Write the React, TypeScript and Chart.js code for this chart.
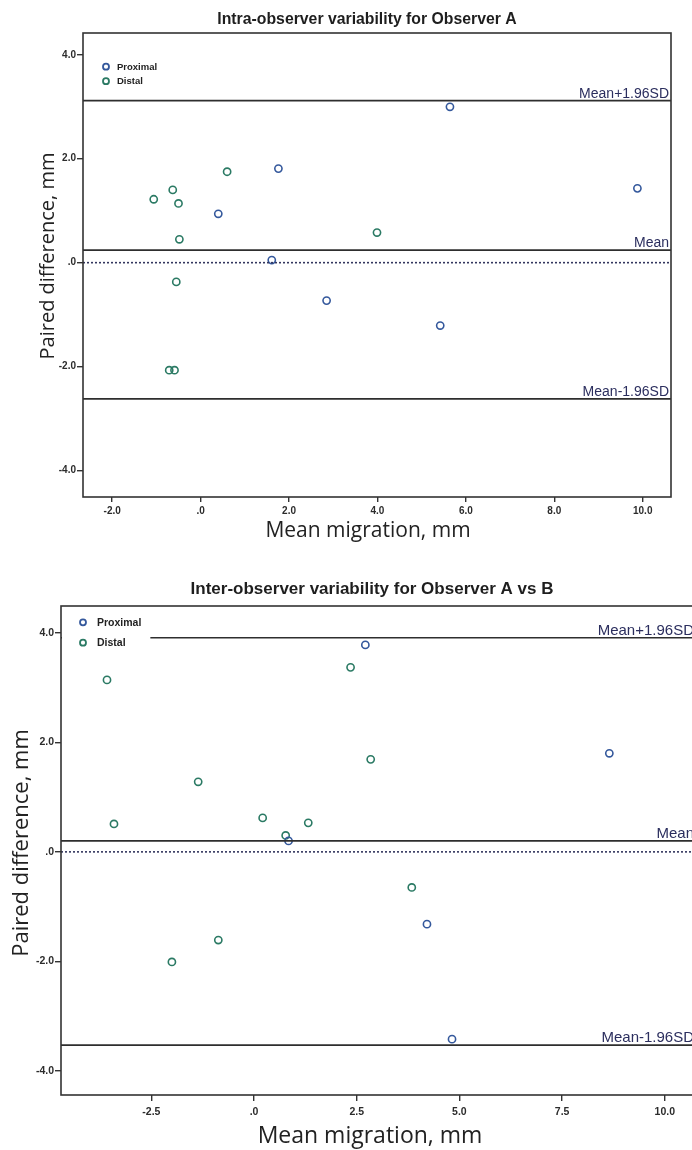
import React, { useEffect, useRef } from "react";
import { Chart, registerables } from "chart.js";

Chart.register(...registerables);

// ---- Shared labels ----
const SERIES_NAMES = ["Proximal", "Distal"];
const LIMIT_LABELS = ["Mean+1.96SD", "Mean", "Mean-1.96SD"];
const X_TITLE = "Mean migration, mm";
const Y_TITLE = "Paired difference, mm";

// ---- Intra-observer variability (Observer A) ----
const INTRA_TITLE = "Intra-observer variability for Observer A";
const INTRA_PROX_X = [5.64, 1.76, 9.88, 0.4, 1.61, 2.85, 5.42];
const INTRA_PROX_Y = [3.0, 1.81, 1.43, 0.94, 0.05, -0.73, -1.21];
const INTRA_DIST_X = [-1.06, -0.63, -0.5, 0.6, -0.48, 3.99, -0.55, -0.71, -0.59];
const INTRA_DIST_Y = [1.22, 1.4, 1.14, 1.75, 0.45, 0.58, -0.37, -2.07, -2.07];
const INTRA_LIMITS = [3.12, 0.24, -2.62];
const INTRA_X_TICKS = [-2, 0, 2, 4, 6, 8, 10];
const INTRA_X_TICK_LABELS = ["-2.0", ".0", "2.0", "4.0", "6.0", "8.0", "10.0"];
const INTRA_Y_TICKS = [-4, -2, 0, 2, 4];
const INTRA_Y_TICK_LABELS = ["-4.0", "-2.0", ".0", "2.0", "4.0"];

// ---- Inter-observer variability (Observer A vs B) ----
const INTER_TITLE = "Inter-observer variability for Observer A vs B";
const INTER_PROX_X = [2.71, 8.65, 0.84, 4.21, 4.82];
const INTER_PROX_Y = [3.78, 1.8, 0.2, -1.32, -3.42];
const INTER_DIST_X = [-3.58, 2.35, 2.84, -1.36, -3.41, 0.21, 1.32, 0.77, 3.84, -0.87, -2.0];
const INTER_DIST_Y = [3.14, 3.37, 1.69, 1.28, 0.51, 0.62, 0.53, 0.3, -0.65, -1.61, -2.01];
const INTER_LIMITS = [3.91, 0.2, -3.53];
const INTER_X_TICKS = [-2.5, 0, 2.5, 5, 7.5, 10];
const INTER_X_TICK_LABELS = ["-2.5", ".0", "2.5", "5.0", "7.5", "10.0"];
const INTER_Y_TICKS = [-4, -2, 0, 2, 4];
const INTER_Y_TICK_LABELS = ["-4.0", "-2.0", ".0", "2.0", "4.0"];

const PROX_COLOR = "#34589c";
const DIST_COLOR = "#2b7a64";
const INK = "#2c2c2c";
const LABEL_INK = "#2b2e5e";
const SANS = '"Liberation Sans", Arial, sans-serif';
const TITLE_SANS = '"Open Sans", "Noto Sans", sans-serif';

type AxisTitle = { cx: number; cy: number; size: number };

type Spec = {
  title: string;
  titleX: number;
  titleY: number;
  titleSize: number;
  proxX: number[];
  proxY: number[];
  distX: number[];
  distY: number[];
  limits: number[];
  xMin: number;
  xMax: number;
  yMin: number;
  yMax: number;
  xTicks: number[];
  xTickLabels: string[];
  yTicks: number[];
  yTickLabels: string[];
  padding: { left: number; right: number; top: number; bottom: number };
  yAxisWidth: number;
  xAxisHeight: number;
  tickSize: number;
  xTickPad: number;
  xTickLen: number;
  xTitle: AxisTitle;
  yTitle: AxisTitle;
  limitSize: number;
  key: { markerDx: number; textDx: number; firstDy: number; gap: number; size: number; padRight: number; padBottom: number };
};

const INTRA: Spec = {
  title: INTRA_TITLE,
  titleX: 367,
  titleY: 20,
  titleSize: 15.8,
  proxX: INTRA_PROX_X,
  proxY: INTRA_PROX_Y,
  distX: INTRA_DIST_X,
  distY: INTRA_DIST_Y,
  limits: INTRA_LIMITS,
  xMin: -2.66,
  xMax: 10.64,
  yMin: -4.51,
  yMax: 4.42,
  xTicks: INTRA_X_TICKS,
  xTickLabels: INTRA_X_TICK_LABELS,
  yTicks: INTRA_Y_TICKS,
  yTickLabels: INTRA_Y_TICK_LABELS,
  padding: { left: 30, right: 21, top: 33, bottom: 0 },
  yAxisWidth: 53,
  xAxisHeight: 53,
  tickSize: 10,
  xTickPad: 3,
  xTickLen: 5,
  xTitle: { cx: 368, cy: 531, size: 21 },
  yTitle: { cx: 48, cy: 256, size: 20 },
  limitSize: 14,
  key: { markerDx: 23, textDx: 34, firstDy: 33.7, gap: 14.5, size: 9.5, padRight: 8, padBottom: 8 },
};

const INTER: Spec = {
  title: INTER_TITLE,
  titleX: 372,
  titleY: 29,
  titleSize: 17,
  proxX: INTER_PROX_X,
  proxY: INTER_PROX_Y,
  distX: INTER_DIST_X,
  distY: INTER_DIST_Y,
  limits: INTER_LIMITS,
  xMin: -4.7,
  xMax: 10.76,
  yMin: -4.44,
  yMax: 4.49,
  xTicks: INTER_X_TICKS,
  xTickLabels: INTER_X_TICK_LABELS,
  yTicks: INTER_Y_TICKS,
  yTickLabels: INTER_Y_TICK_LABELS,
  padding: { left: 8, right: 24, top: 46, bottom: 0 },
  yAxisWidth: 53,
  xAxisHeight: 55,
  tickSize: 10.5,
  xTickPad: 5,
  xTickLen: 6,
  xTitle: { cx: 370, cy: 576, size: 23 },
  yTitle: { cx: 22, cy: 283, size: 22 },
  limitSize: 15,
  key: { markerDx: 22, textDx: 36, firstDy: 16.3, gap: 20.4, size: 10.5, padRight: 9, padBottom: 9 },
};

// Chart heading drawn at a fixed position above the plot frame.
const headingPlugin = {
  id: "heading",
  afterDraw(chart: any, _args: any, opts: any) {
    const { ctx } = chart;
    ctx.save();
    ctx.font = `bold ${opts.size}px ${SANS}`;
    ctx.fillStyle = "#1e1e1e";
    ctx.textAlign = "center";
    ctx.textBaseline = "middle";
    ctx.fillText(opts.text, opts.x, opts.y);
    ctx.restore();
  },
};

// Axis captions, placed independently of the axis boxes.
const axisCaptionPlugin = {
  id: "axisCaptions",
  afterDraw(chart: any, _args: any, o: any) {
    const { ctx } = chart;
    ctx.save();
    ctx.fillStyle = "#222";
    ctx.textAlign = "center";
    ctx.textBaseline = "middle";
    ctx.font = `${o.x.size}px ${TITLE_SANS}`;
    ctx.fillText(o.x.text, o.x.cx, o.x.cy);
    ctx.translate(o.y.cx, o.y.cy);
    ctx.rotate(-Math.PI / 2);
    ctx.font = `${o.y.size}px ${TITLE_SANS}`;
    ctx.fillText(o.y.text, 0, 0);
    ctx.restore();
  },
};

// Closed rectangle around the plotting area.
const framePlugin = {
  id: "frame",
  afterDraw(chart: any) {
    const { ctx, chartArea: a } = chart;
    ctx.save();
    ctx.strokeStyle = "#333";
    ctx.lineWidth = 1.6;
    ctx.strokeRect(a.left, a.top, a.right - a.left, a.bottom - a.top);
    ctx.restore();
  },
};

// Text tags sitting just above the mean / limit-of-agreement lines.
const limitTagPlugin = {
  id: "limitTags",
  afterDatasetsDraw(chart: any, _args: any, opts: any) {
    const { ctx, chartArea: a } = chart;
    const ys = chart.scales.y;
    ctx.save();
    ctx.font = `${opts.size}px ${SANS}`;
    ctx.fillStyle = LABEL_INK;
    ctx.textAlign = "right";
    ctx.textBaseline = "alphabetic";
    chart.data.datasets.forEach((d: any) => {
      if (!d.limitTag) return;
      const y = ys.getPixelForValue(d.data[0].y);
      ctx.fillText(d.limitTag, a.right - 2, y - 3);
    });
    ctx.restore();
  },
};

// Series key in the upper-left corner of the plot, on a white patch.
const seriesKeyPlugin = {
  id: "seriesKey",
  afterDatasetsDraw(chart: any, _args: any, o: any) {
    const { ctx, chartArea: a } = chart;
    const items = chart.data.datasets.filter((d: any) => d.isSeries);
    ctx.save();
    ctx.font = `bold ${o.size}px ${SANS}`;
    const textX = a.left + o.textDx;
    const maxW = Math.max(...items.map((d: any) => ctx.measureText(d.label).width));
    const right = textX + maxW + o.padRight;
    const bottom = a.top + o.firstDy + (items.length - 1) * o.gap + o.padBottom;
    ctx.fillStyle = "#fff";
    ctx.fillRect(a.left + 1, a.top + 1, right - a.left - 1, bottom - a.top - 1);
    items.forEach((d: any, i: number) => {
      const y = a.top + o.firstDy + i * o.gap;
      ctx.beginPath();
      ctx.arc(a.left + o.markerDx, y, 3, 0, Math.PI * 2);
      ctx.strokeStyle = d.borderColor;
      ctx.lineWidth = 1.8;
      ctx.stroke();
      ctx.fillStyle = "#222";
      ctx.textAlign = "left";
      ctx.textBaseline = "middle";
      ctx.fillText(d.label, textX, y + 0.5);
    });
    ctx.restore();
  },
};

function points(xs: number[], ys: number[]) {
  return xs.map((x, i) => ({ x, y: ys[i] }));
}

function buildConfig(s: Spec): any {
  const limitSets = s.limits.map((v, i) => ({
    label: LIMIT_LABELS[i],
    limitTag: LIMIT_LABELS[i],
    data: [
      { x: s.xMin, y: v },
      { x: s.xMax, y: v },
    ],
    showLine: true,
    borderColor: "#2e2e2e",
    borderWidth: 1.7,
    pointRadius: 0,
  }));
  const zeroSet = {
    label: "zero",
    data: [
      { x: s.xMin, y: 0 },
      { x: s.xMax, y: 0 },
    ],
    showLine: true,
    borderColor: "#33375e",
    borderWidth: 1.6,
    borderDash: [2, 2],
    pointRadius: 0,
  };
  const series = (label: string, color: string, xs: number[], ys: number[]) => ({
    label,
    isSeries: true,
    data: points(xs, ys),
    borderColor: color,
    backgroundColor: "rgba(255,255,255,0)",
    pointRadius: 3.6,
    pointBorderWidth: 1.6,
    pointStyle: "circle",
  });

  const tickFont = { family: SANS, weight: "bold" as const, size: s.tickSize };
  return {
    type: "scatter",
    data: {
      datasets: [
        zeroSet,
        ...limitSets,
        series(SERIES_NAMES[0], PROX_COLOR, s.proxX, s.proxY),
        series(SERIES_NAMES[1], DIST_COLOR, s.distX, s.distY),
      ],
    },
    options: {
      responsive: false,
      animation: false,
      devicePixelRatio: 1,
      events: [],
      layout: { padding: s.padding },
      scales: {
        x: {
          type: "linear",
          min: s.xMin,
          max: s.xMax,
          afterBuildTicks: (sc: any) => {
            sc.ticks = s.xTicks.map((v) => ({ value: v }));
          },
          afterFit: (sc: any) => {
            sc.height = s.xAxisHeight;
          },
          ticks: {
            callback: (_v: any, i: number) => s.xTickLabels[i],
            font: tickFont,
            color: INK,
            padding: s.xTickPad,
            maxRotation: 0,
            autoSkip: false,
          },
          grid: {
            display: true,
            drawOnChartArea: false,
            drawTicks: true,
            tickLength: s.xTickLen,
            color: "#333",
            lineWidth: 1.4,
          },
          border: { display: false },
          title: { display: false },
        },
        y: {
          type: "linear",
          min: s.yMin,
          max: s.yMax,
          afterBuildTicks: (sc: any) => {
            sc.ticks = s.yTicks.map((v) => ({ value: v }));
          },
          afterFit: (sc: any) => {
            sc.width = s.yAxisWidth;
          },
          ticks: {
            callback: (_v: any, i: number) => s.yTickLabels[i],
            font: tickFont,
            color: INK,
            padding: 1,
            autoSkip: false,
          },
          grid: {
            display: true,
            drawOnChartArea: false,
            drawTicks: true,
            tickLength: 6,
            color: "#333",
            lineWidth: 1.4,
          },
          border: { display: false },
          title: { display: false },
        },
      },
      plugins: {
        legend: { display: false },
        tooltip: { enabled: false },
        title: { display: false },
        heading: { text: s.title, x: s.titleX, y: s.titleY, size: s.titleSize },
        axisCaptions: {
          x: { text: X_TITLE, ...s.xTitle },
          y: { text: Y_TITLE, ...s.yTitle },
        },
        limitTags: { size: s.limitSize },
        seriesKey: s.key,
      },
    },
    plugins: [headingPlugin, axisCaptionPlugin, limitTagPlugin, seriesKeyPlugin, framePlugin],
  };
}

function BlandAltman({ spec, width, height }: { spec: Spec; width: number; height: number }) {
  const ref = useRef<HTMLCanvasElement>(null);
  useEffect(() => {
    const chart = new Chart(ref.current as HTMLCanvasElement, buildConfig(spec));
    return () => chart.destroy();
  }, [spec]);
  return <canvas ref={ref} width={width} height={height} style={{ display: "block", width, height }} />;
}

export default function App() {
  return (
    <div
      style={{
        position: "absolute",
        left: 0,
        top: 0,
        width: 692,
        height: 1150,
        overflow: "hidden",
        background: "#fff",
      }}
    >
      <div style={{ position: "absolute", left: 0, top: 0 }}>
        <BlandAltman spec={INTRA} width={692} height={550} />
      </div>
      <div style={{ position: "absolute", left: 0, top: 560 }}>
        <BlandAltman spec={INTER} width={720} height={590} />
      </div>
    </div>
  );
}
